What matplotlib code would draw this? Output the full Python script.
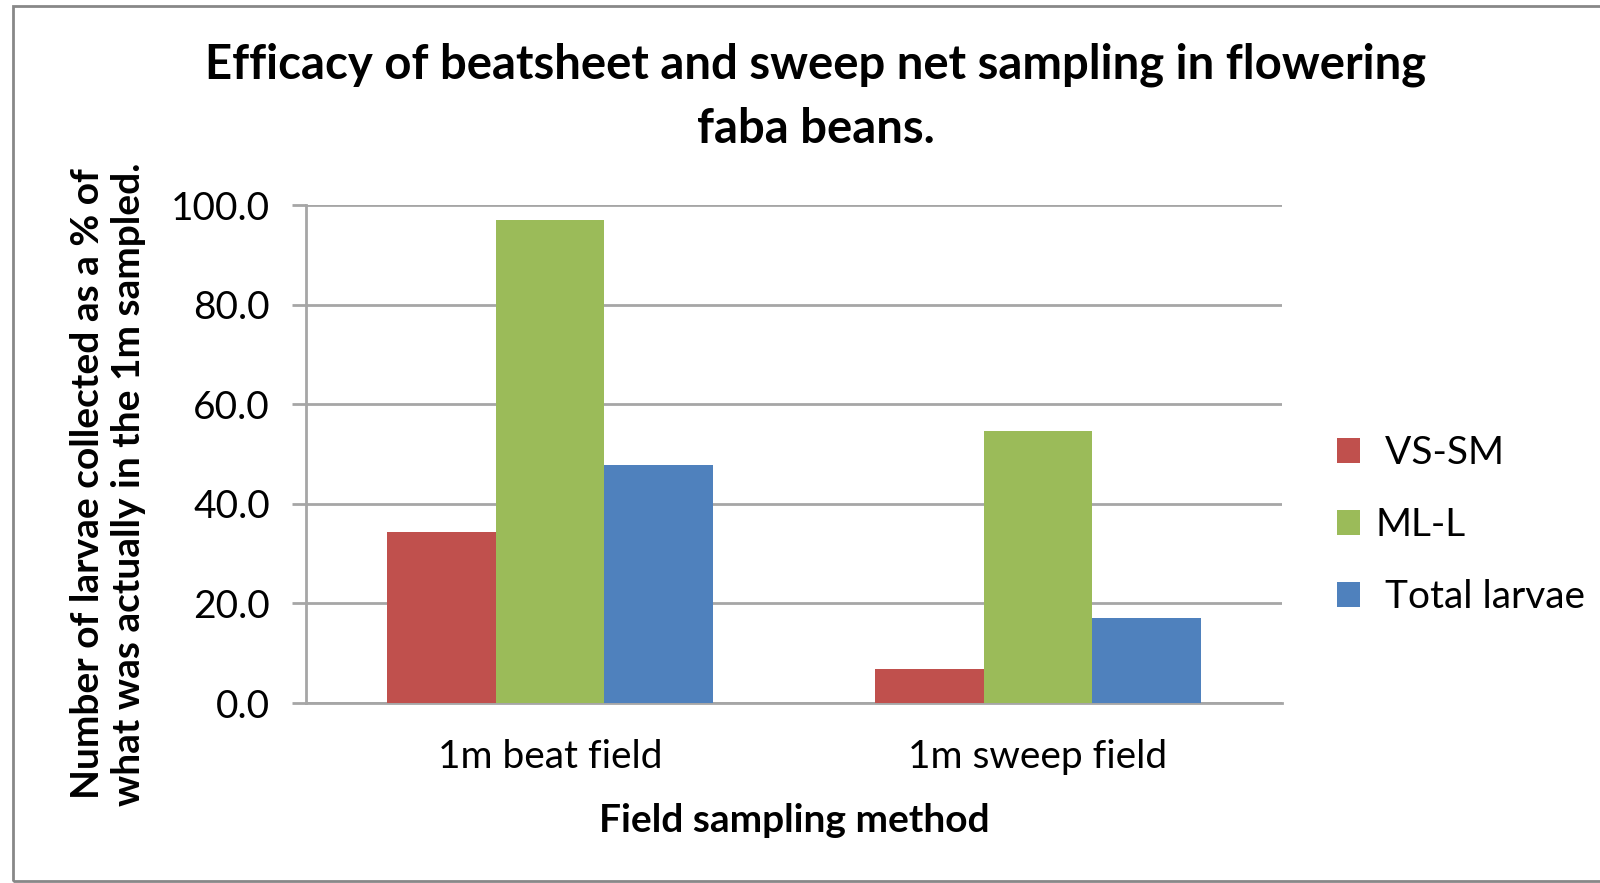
import matplotlib

matplotlib.use("Agg")

import matplotlib.pyplot as plt
import numpy as np
from matplotlib.patches import Rectangle

categories = ["1m beat field", "1m sweep field"]
series_names = [" VS-SM", "ML-L", " Total larvae"]
vs_sm = [34.4, 6.9]
ml_l = [96.9, 54.6]
total_larvae = [47.7, 17.1]
yticks = [0, 20, 40, 60, 80, 100]

colors = ["#C0504D", "#9BBB59", "#4F81BD"]
grid_color = "#A6A6A6"

plt.rcParams["font.family"] = ["Lato", "DejaVu Sans"]

fig = plt.figure(figsize=(16, 8.83), dpi=100)
ax = fig.add_axes([0.19125, 0.2038, 0.61, 0.564])

x = np.arange(len(categories))
width = 1 / 4.5
for i, (vals, name, color) in enumerate(zip([vs_sm, ml_l, total_larvae], series_names, colors)):
    ax.bar(x + (i - 1) * width, vals, width=width, color=color, label=name, zorder=3)

ax.set_xlim(-0.5, 1.5)
ax.set_ylim(0, 100)
ax.set_yticks(yticks)
ax.set_yticklabels([f"{v:.1f}" for v in yticks], fontsize=28)
ax.set_xticks(x)
ax.set_xticklabels(categories, fontsize=28)
ax.tick_params(axis="x", length=0, pad=26)
ax.tick_params(axis="y", length=10, width=2, color=grid_color, pad=16)
ax.yaxis.grid(True, color=grid_color, linewidth=2, zorder=0)
for side in ["top", "right"]:
    ax.spines[side].set_visible(False)
for side in ["left", "bottom"]:
    ax.spines[side].set_color(grid_color)
    ax.spines[side].set_linewidth(2)

ax.set_xlabel("Field sampling method", fontsize=28, fontweight="bold", labelpad=20)
fig.text(0.0675, 0.452, "Number of larvae collected as a % of\nwhat was actually in the 1m sampled.",
         rotation=90, ha="center", va="center", fontsize=28, fontweight="bold", linespacing=1.2)

fig.text(0.51, 0.89, "Efficacy of beatsheet and sweep net sampling in flowering\nfaba beans.",
         ha="center", va="center", fontsize=34, fontweight="bold", linespacing=1.55)

ax.legend(loc="center left", bbox_to_anchor=(1.02, 0.357), frameon=False, fontsize=28,
          handlelength=0.6, handleheight=0.6, handletextpad=0.4, labelspacing=0.92)

fig.patches.append(Rectangle((13 / 1600, 2 / 883), 1.2, 1 - 8 / 883, transform=fig.transFigure,
                             fill=False, edgecolor="#888888", linewidth=2))

fig.savefig("out.png", dpi=100)
